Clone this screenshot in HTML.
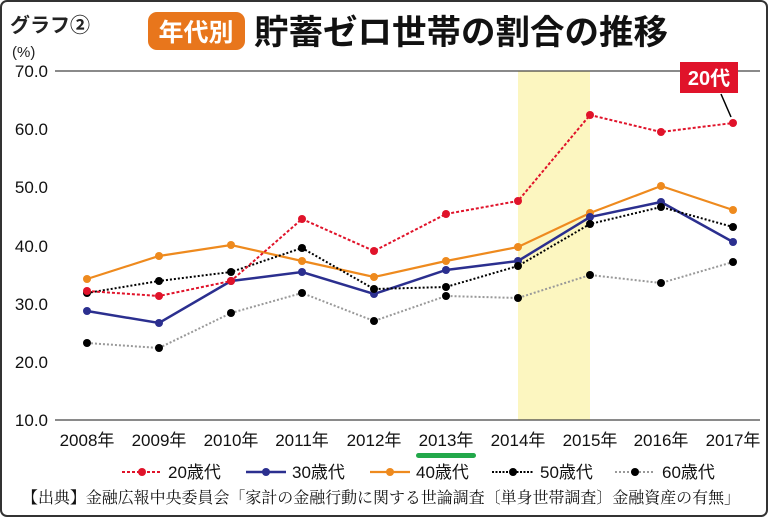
<!DOCTYPE html>
<html><head><meta charset="utf-8"><style>
body{margin:0;background:#fff}
svg text{font-family:"Liberation Sans","Noto Sans CJK JP",sans-serif}
</style></head><body>
<svg width="768" height="517" viewBox="0 0 768 517" xmlns="http://www.w3.org/2000/svg">
<rect x="1" y="1" width="766" height="515" rx="6" fill="#fff" stroke="#333" stroke-width="2"/>
<text x="10" y="32" font-size="20" font-weight="bold" fill="#222">グラフ②</text>
<rect x="148" y="12" width="97" height="38" rx="9" fill="#e8761c"/>
<text x="196" y="41" font-size="25" font-weight="bold" fill="#fff" text-anchor="middle">年代別</text>
<text x="254" y="44" font-size="34" font-weight="bold" fill="#111" textLength="414" lengthAdjust="spacingAndGlyphs">貯蓄ゼロ世帯の割合の推移</text>
<text x="12" y="57" font-size="15" fill="#222">(%)</text>
<rect x="518" y="71" width="72" height="349" fill="#fcf6c0"/>
<line x1="55" y1="71" x2="760" y2="71" stroke="#444" stroke-width="1.3"/>
<line x1="55" y1="420" x2="760" y2="420" stroke="#444" stroke-width="1.3"/>
<g font-size="17" fill="#111" text-anchor="end">
<text x="48" y="77">70.0</text><text x="48" y="135">60.0</text><text x="48" y="193">50.0</text><text x="48" y="252">40.0</text><text x="48" y="310">30.0</text><text x="48" y="368">20.0</text><text x="48" y="426">10.0</text>
</g>
<g font-size="17" fill="#111" text-anchor="middle">
<text x="87" y="446">2008年</text><text x="159" y="446">2009年</text><text x="231" y="446">2010年</text><text x="302" y="446">2011年</text><text x="374" y="446">2012年</text><text x="446" y="446">2013年</text><text x="518" y="446">2014年</text><text x="590" y="446">2015年</text><text x="661" y="446">2016年</text><text x="733" y="446">2017年</text>
</g>
<rect x="416" y="453" width="60" height="5" rx="2.5" fill="#22a84a"/>
<polyline fill="none" stroke="#999" stroke-width="2" stroke-dasharray="2,2" points="87,343 159,348 231,313 302,293 374,321 446,296 518,298 590,275 661,283 733,262"/>
<g fill="#000"><circle cx="87" cy="343" r="4"/><circle cx="159" cy="348" r="4"/><circle cx="231" cy="313" r="4"/><circle cx="302" cy="293" r="4"/><circle cx="374" cy="321" r="4"/><circle cx="446" cy="296" r="4"/><circle cx="518" cy="298" r="4"/><circle cx="590" cy="275" r="4"/><circle cx="661" cy="283" r="4"/><circle cx="733" cy="262" r="4"/></g>
<polyline fill="none" stroke="#ee8a1e" stroke-width="2.2" points="87,279 159,256 231,245 302,261 374,277 446,261 518,247 590,213 661,186 733,210"/>
<g fill="#ee8a1e"><circle cx="87" cy="279" r="4"/><circle cx="159" cy="256" r="4"/><circle cx="231" cy="245" r="4"/><circle cx="302" cy="261" r="4"/><circle cx="374" cy="277" r="4"/><circle cx="446" cy="261" r="4"/><circle cx="518" cy="247" r="4"/><circle cx="590" cy="213" r="4"/><circle cx="661" cy="186" r="4"/><circle cx="733" cy="210" r="4"/></g>
<polyline fill="none" stroke="#2b2f8f" stroke-width="2.5" points="87,311 159,323 231,281 302,272 374,294 446,270 518,261 590,217 661,202 733,242"/>
<g fill="#2b2f8f"><circle cx="87" cy="311" r="4"/><circle cx="159" cy="323" r="4"/><circle cx="231" cy="281" r="4"/><circle cx="302" cy="272" r="4"/><circle cx="374" cy="294" r="4"/><circle cx="446" cy="270" r="4"/><circle cx="518" cy="261" r="4"/><circle cx="590" cy="217" r="4"/><circle cx="661" cy="202" r="4"/><circle cx="733" cy="242" r="4"/></g>
<polyline fill="none" stroke="#000" stroke-width="2" stroke-dasharray="2,2" points="87,293 159,281 231,272 302,248 374,289 446,287 518,266 590,224 661,207 733,227"/>
<g fill="#000"><circle cx="87" cy="293" r="4"/><circle cx="159" cy="281" r="4"/><circle cx="231" cy="272" r="4"/><circle cx="302" cy="248" r="4"/><circle cx="374" cy="289" r="4"/><circle cx="446" cy="287" r="4"/><circle cx="518" cy="266" r="4"/><circle cx="590" cy="224" r="4"/><circle cx="661" cy="207" r="4"/><circle cx="733" cy="227" r="4"/></g>
<polyline fill="none" stroke="#e0132a" stroke-width="2" stroke-dasharray="3,2" points="87,291 159,296 231,281 302,219 374,251 446,214 518,201 590,115 661,132 733,123"/>
<g fill="#e0132a"><circle cx="87" cy="291" r="4"/><circle cx="159" cy="296" r="4"/><circle cx="231" cy="281" r="4"/><circle cx="302" cy="219" r="4"/><circle cx="374" cy="251" r="4"/><circle cx="446" cy="214" r="4"/><circle cx="518" cy="201" r="4"/><circle cx="590" cy="115" r="4"/><circle cx="661" cy="132" r="4"/><circle cx="733" cy="123" r="4"/></g>
<rect x="680" y="62" width="58" height="31" fill="#e0132a"/>
<text x="709" y="85" font-size="20" font-weight="bold" fill="#fff" text-anchor="middle">20代</text>
<line x1="721" y1="94" x2="731" y2="117" stroke="#000" stroke-width="1.5"/>
<g font-size="17" fill="#111">
<line x1="122" y1="472" x2="162" y2="472" stroke="#e0132a" stroke-width="2" stroke-dasharray="3,2"/><circle cx="142" cy="472" r="4" fill="#e0132a"/><text x="168" y="478">20歳代</text>
<line x1="246" y1="472" x2="286" y2="472" stroke="#2b2f8f" stroke-width="2.5"/><circle cx="266" cy="472" r="4" fill="#2b2f8f"/><text x="292" y="478">30歳代</text>
<line x1="370" y1="472" x2="410" y2="472" stroke="#ee8a1e" stroke-width="2.2"/><circle cx="390" cy="472" r="4" fill="#ee8a1e"/><text x="416" y="478">40歳代</text>
<line x1="492" y1="472" x2="534" y2="472" stroke="#000" stroke-width="2" stroke-dasharray="2,1.5"/><circle cx="513" cy="472" r="4" fill="#000"/><text x="540" y="478">50歳代</text>
<line x1="615" y1="472" x2="655" y2="472" stroke="#999" stroke-width="2" stroke-dasharray="2,2"/><circle cx="635" cy="472" r="4" fill="#000"/><text x="662" y="478">60歳代</text>
</g>
<text x="22" y="503" font-size="16" fill="#111" textLength="718" lengthAdjust="spacingAndGlyphs" style="font-family:'Liberation Serif','Noto Serif CJK SC',serif">【出典】金融広報中央委員会「家計の金融行動に関する世論調査〔単身世帯調査〕金融資産の有無」</text>
</svg>
</body></html>
